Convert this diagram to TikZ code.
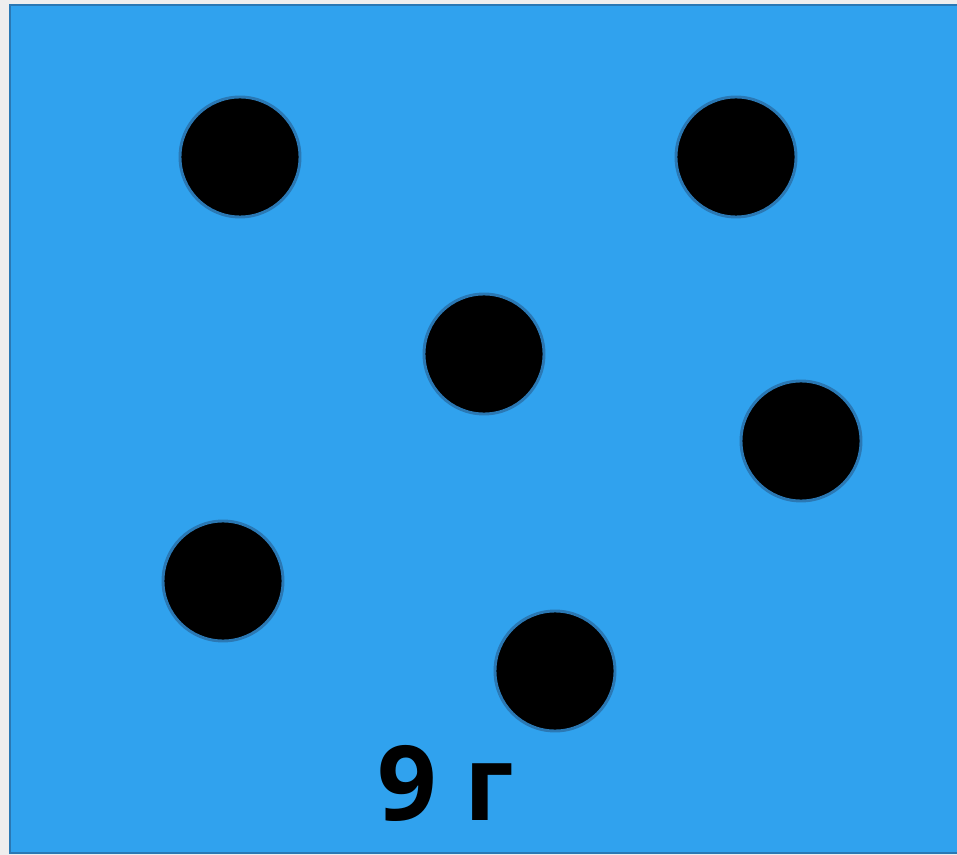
\documentclass[tikz,border=0pt]{standalone}
\usepackage{fontspec}
\newfontfamily\labelfont{Open Sans}
\usepackage{tikz}
\definecolor{water}{HTML}{30A2EE}
\definecolor{rim}{HTML}{2A78B4}
\definecolor{page}{HTML}{EEEEEE}

\begin{document}
\begin{tikzpicture}[
  x=0.75pt, y=-0.75pt,
  tank/.style={draw=rim, line width=1.8pt, fill=water},
  hole/.style={circle, draw=rim, line width=2.2pt, fill=black, minimum size=90pt, inner sep=0pt},
  mass/.style={font=\labelfont\bfseries\fontsize{78}{80}\selectfont, inner sep=0pt},
]
\useasboundingbox (0,0) rectangle (957,855);
\fill[page] (0,0) rectangle (957,855);
\draw[tank] (10,5) rectangle (972,853);
\node[hole] (h1) at (240,157) {};
\node[hole] (h2) at (736,157) {};
\node[hole] (h3) at (484,354) {};
\node[hole] (h4) at (801,441) {};
\node[hole] (h5) at (223,581) {};
\node[hole] (h6) at (555,671) {};
\node[mass] (m) at (446,783) {9 г};
\end{tikzpicture}
\end{document}
